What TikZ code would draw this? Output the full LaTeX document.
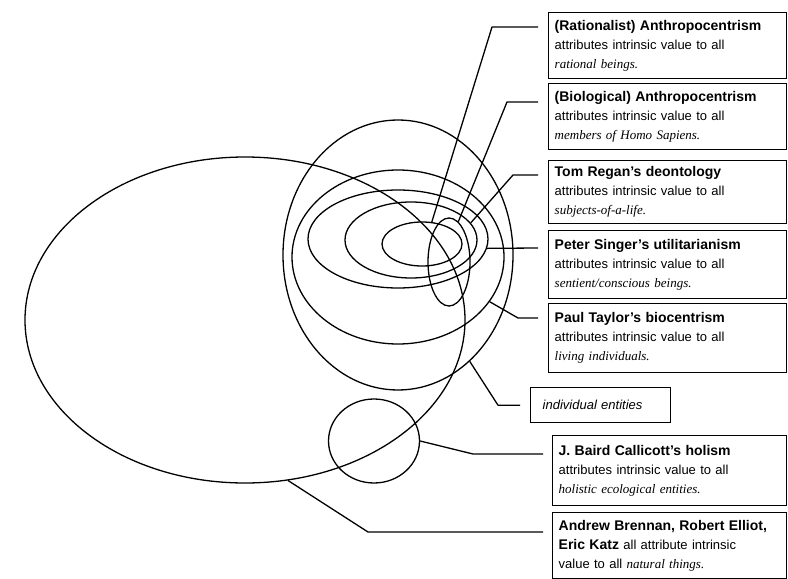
\documentclass[tikz,border=0pt]{standalone}
\usepackage{fontspec}
\setmainfont{Liberation Serif}
\setsansfont{Liberation Sans}
\usepackage{tikz}
\usetikzlibrary{shapes.geometric}
\newcommand{\ent}[1]{{\rmfamily\itshape #1}}
\newcommand{\head}[1]{{\bfseries\fontsize{14bp}{19bp}\selectfont #1}}
\tikzset{
  ring/.style 2 args={ellipse, draw, line width=1.3bp, inner sep=0pt,
                      minimum width=#1bp, minimum height=#2bp},
  frame/.style={draw, line width=1.4bp, anchor=north west,
                font=\sffamily\fontsize{13bp}{19bp}\selectfont},
  note/.style={frame, align=left, text width=226bp, inner xsep=6bp,
               minimum height=66bp},
  link/.style={line width=1.3bp, line join=round}
}

\begin{document}
\begin{tikzpicture}[x=1bp, y=-1bp]
  \useasboundingbox (0,0) rectangle (788,579);
  % circles of moral concern
  \node[ring={440}{326}] (natural) at (245,320) {};
  \node[ring={230}{270}] (individual) at (398,255) {};
  \node[ring={212}{174}] (living) at (398,257) {};
  \node[ring={180}{98}] (sentient) at (398,239) {};
  \node[ring={132}{76}] (subjects) at (411,240) {};
  \node[ring={80}{44}] (rational) at (422,244) {};
  \node[ring={42}{88}] (sapiens) at (449,262) {};
  \node[ring={91}{84}] (holistic) at (374,441) {};
  % labels
  \node[note] (ratbox) at (548,12) {\head{(Rationalist) Anthropocentrism}\\
    attributes intrinsic value to all\\ \ent{rational beings.}};
  \node[note] (sapbox) at (548,83) {\head{(Biological) Anthropocentrism}\\
    attributes intrinsic value to all\\ \ent{members of Homo Sapiens.}};
  \node[note, minimum height=63bp] (regbox) at (548,160) {\head{Tom Regan's deontology}\\
    attributes intrinsic value to all\\ \ent{subjects-of-a-life.}};
  \node[note, minimum height=68bp] (sinbox) at (548,230) {\head{Peter Singer's utilitarianism}\\
    attributes intrinsic value to all\\ \ent{sentient/conscious beings.}};
  \node[note, minimum height=69bp] (taybox) at (548,303) {\head{Paul Taylor's biocentrism}\\
    attributes intrinsic value to all\\ \ent{living individuals.}};
  \node[frame, align=left, text width=116bp, inner xsep=12bp, minimum height=35bp]
    (indbox) at (530,387) {\itshape individual entities};
  \node[note, text width=222bp, minimum height=70bp] (calbox) at (552,435)
    {\head{J. Baird Callicott's holism}\\
    attributes intrinsic value to all\\ \ent{holistic ecological entities.}};
  \node[note, text width=222bp] (brebox) at (552,512)
    {\head{Andrew Brennan, Robert Elliot,}\\
    \head{Eric Katz} all attribute intrinsic\\ value to all \ent{natural things.}};
  % leader lines
  \draw[link] ([shift={(-10bp,-15bp)}]ratbox.north west) -- ++(-46,0) -- (rational.66);
  \draw[link] ([shift={(-10bp,-19bp)}]sapbox.north west) -- ++(-31,0) -- (sapiens.77);
  \draw[link] ([shift={(-10bp,-15bp)}]regbox.north west) -- ++(-25,0) -- (subjects.16);
  \draw[link] ([shift={(-10bp,-18bp)}]sinbox.north west) -- (sentient.-6);
  \draw[link] ([shift={(-10bp,-15bp)}]taybox.north west) -- ++(-20,0) -- (living.-26);
  \draw[link] ([xshift=-10bp]indbox.west) -- ++(-22,0) -- (individual.-56);
  \draw[link] ([shift={(-9bp,-19bp)}]calbox.north west) -- ++(-70,0) -- (holistic.0);
  \draw[link] ([shift={(-9bp,-20bp)}]brebox.north west) -- ++(-175,0) -- (natural.-75);
\end{tikzpicture}
\end{document}
